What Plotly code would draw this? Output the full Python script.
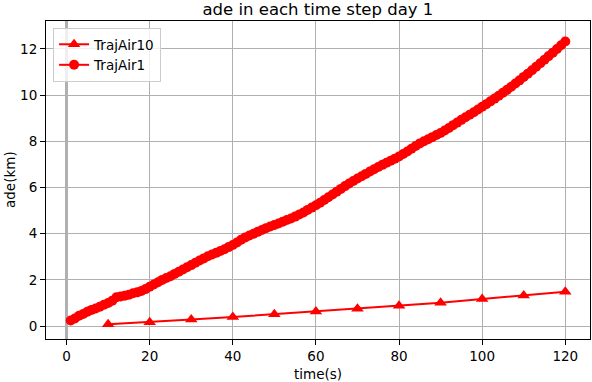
import plotly.graph_objects as go

# Data
t_1 = list(range(1, 121))
ade_1 = [0.24, 0.33, 0.45, 0.52, 0.62, 0.70, 0.76, 0.84, 0.92, 1.00,
         1.10, 1.25, 1.28, 1.31, 1.36, 1.42, 1.46, 1.52, 1.60, 1.70,
         1.80, 1.90, 2.00, 2.08, 2.16, 2.26, 2.35, 2.45, 2.55, 2.64,
         2.74, 2.84, 2.93, 3.02, 3.10, 3.17, 3.25, 3.33, 3.42, 3.51,
         3.62, 3.74, 3.84, 3.92, 4.00, 4.08, 4.16, 4.24, 4.31, 4.38,
         4.44, 4.52, 4.59, 4.66, 4.74, 4.83, 4.92, 5.03, 5.13, 5.23,
         5.34, 5.46, 5.58, 5.70, 5.82, 5.94, 6.06, 6.17, 6.28, 6.39,
         6.49, 6.59, 6.69, 6.79, 6.89, 6.98, 7.07, 7.16, 7.25, 7.34,
         7.45, 7.56, 7.68, 7.80, 7.91, 8.00, 8.09, 8.18, 8.27, 8.36,
         8.47, 8.58, 8.70, 8.81, 8.93, 9.04, 9.15, 9.26, 9.38, 9.50,
         9.61, 9.73, 9.85, 9.97, 10.10, 10.23, 10.36, 10.50, 10.64, 10.79,
         10.93, 11.08, 11.23, 11.38, 11.53, 11.69, 11.84, 12.00, 12.16, 12.32]

t_10 = [10, 20, 30, 40, 50, 60, 70, 80, 90, 100, 110, 120]
ade_10 = [0.08, 0.17, 0.28, 0.39, 0.51, 0.63, 0.75, 0.88, 1.01, 1.17, 1.32, 1.49]

x_ticks = [0, 20, 40, 60, 80, 100, 120]
y_ticks = [0, 2, 4, 6, 8, 10, 12]

FONT = "DejaVu Sans"

fig = go.Figure()

fig.add_trace(go.Scatter(
    x=t_10, y=ade_10, mode="lines+markers", name="TrajAir10",
    line=dict(color="#ff0000", width=2),
    marker=dict(symbol="triangle-up", size=11, color="#ff0000")
))
fig.add_trace(go.Scatter(
    x=t_1, y=ade_1, mode="lines+markers", name="TrajAir1",
    line=dict(color="#ff0000", width=2),
    marker=dict(symbol="circle", size=10, color="#ff0000")
))

fig.update_layout(
    width=592, height=382,
    margin=dict(l=46, r=2, t=21, b=43, autoexpand=False),
    paper_bgcolor="white", plot_bgcolor="white",
    font=dict(family=FONT, size=13.5, color="black"),
    title=dict(text="ade in each time step day 1", x=0.537, xanchor="center",
               y=0.976, yanchor="middle", yref="container",
               font=dict(family=FONT, size=16.5, color="black")),
    legend=dict(x=0.013, y=0.978, xanchor="left", yanchor="top",
                bgcolor="rgba(255,255,255,0.8)", bordercolor="#cccccc", borderwidth=1,
                font=dict(family=FONT, size=13.5), tracegroupgap=0),
    annotations=[
        dict(text="time(s)", x=0.5, y=-35 / 318, xref="paper", yref="paper",
             xanchor="center", yanchor="middle", showarrow=False,
             font=dict(family=FONT, size=13.5)),
        dict(text="ade(km)", x=-36 / 544, y=0.5, xref="paper", yref="paper",
             xanchor="center", yanchor="middle", showarrow=False, textangle=-90,
             font=dict(family=FONT, size=13.5)),
    ],
)

fig.update_xaxes(
    range=[-4.95, 125.95], tickvals=x_ticks, ticks="outside", ticklen=5,
    tickcolor="black", showline=True, linecolor="black", linewidth=1.1, mirror=True,
    showgrid=True, gridcolor="#b0b0b0", gridwidth=1.1, automargin=False,
    zeroline=True, zerolinecolor="#b0b0b0", zerolinewidth=3
)
fig.update_yaxes(
    range=[-0.56, 13.21], tickvals=y_ticks, ticks="outside", ticklen=5,
    tickcolor="black", showline=True, linecolor="black", linewidth=1.1, mirror=True,
    showgrid=True, gridcolor="#b0b0b0", gridwidth=1.1, automargin=False,
    zeroline=True, zerolinecolor="#b0b0b0", zerolinewidth=1.1
)

# drop the browser's default 8px body margin so the figure sits at the window corner
fig.write_html("out.html", config={"displayModeBar": False},
               post_script="document.body.style.margin = '0';")
